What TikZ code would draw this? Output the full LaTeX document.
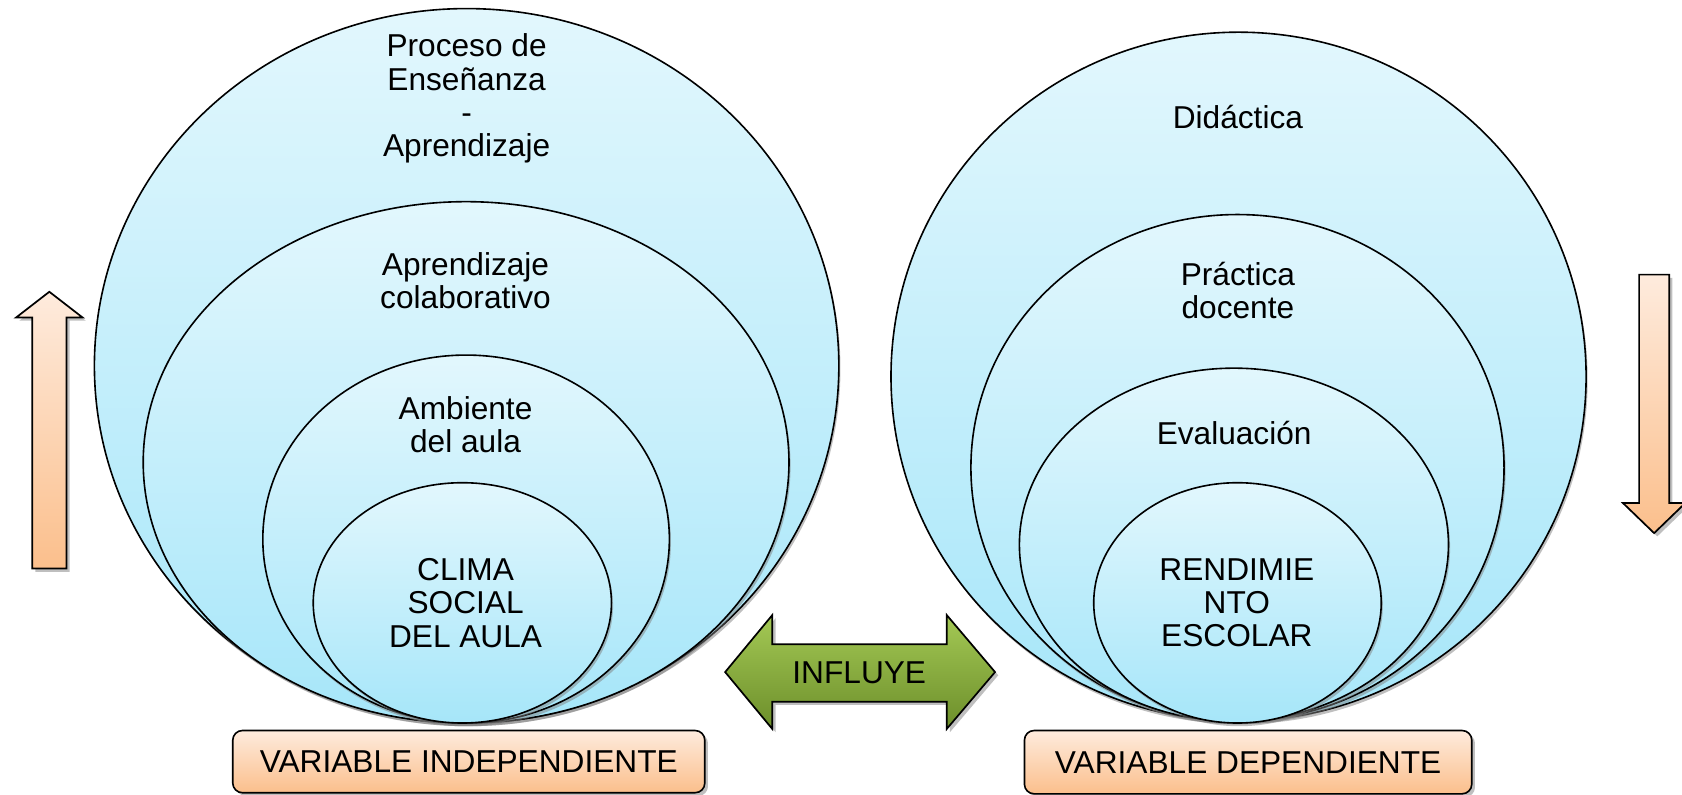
\documentclass[tikz,border=0pt]{standalone}
\usepackage{fontspec}
\setmainfont{Liberation Sans}
\usetikzlibrary{shapes.geometric,shadows}
\definecolor{bluetop}{HTML}{E2F7FD}
\definecolor{bluebot}{HTML}{A6E6F9}
\definecolor{orgtop}{HTML}{FEEBDD}
\definecolor{orgbot}{HTML}{FBBF8C}
\definecolor{grntop}{HTML}{A4C955}
\definecolor{grnbot}{HTML}{6C8E2A}
\begin{document}
\begin{tikzpicture}[x=1pt,y=-1pt,
  shell/.style={ellipse, draw=black, line width=1.5pt, inner sep=0pt,
    shading=axis, top color=bluetop, bottom color=bluebot,
    drop shadow={opacity=0.5, shadow xshift=1.5pt, shadow yshift=-3pt}},
  lbl/.style={align=center, font=\fontsize{29.5}{31}\selectfont, inner sep=0pt},
  varbox/.style={rectangle, rounded corners=9pt, draw=black, line width=1.5pt,
    top color=orgtop, bottom color=orgbot, inner sep=0pt,
    drop shadow={opacity=0.5, shadow xshift=3pt, shadow yshift=-3pt},
    font=\fontsize{29.5}{31}\selectfont},
  orgarrow/.style={draw=black, line width=1.6pt, line join=miter,
    top color=orgtop, bottom color=orgbot,
    drop shadow={opacity=0.5, shadow xshift=3pt, shadow yshift=-3pt}},
  grnarrow/.style={draw=black, line width=1.6pt, line join=miter,
    top color=grntop, bottom color=grnbot,
    drop shadow={opacity=0.5, shadow xshift=3pt, shadow yshift=-3pt}}]
\useasboundingbox (0,0) rectangle (1568,741);

% left nest
\node[shell, minimum width=694pt, minimum height=666pt] (L1) at (435,341) {};
\node[shell, minimum width=602pt, minimum height=486pt] (L2) at (434.5,431) {};
\node[shell, minimum width=379pt, minimum height=343pt] (L3) at (434.5,502.5) {};
\node[shell, minimum width=278pt, minimum height=224pt] (L4) at (431,562) {};

% right nest
\node[shell, minimum width=648pt, minimum height=642pt] (R1) at (1154.6,351) {};
\node[shell, minimum width=497pt, minimum height=472pt] (R2) at (1153.6,436) {};
\node[shell, minimum width=400pt, minimum height=329pt] (R3) at (1150.3,507.7) {};
\node[shell, minimum width=268pt, minimum height=224pt] (R4) at (1153.6,562) {};

% texts
\node[lbl] (tL1) at (435,92) {Proceso de\\Enseñanza\\-\\Aprendizaje};
\node[lbl] (tL2) at (434,262) {Aprendizaje\\colaborativo};
\node[lbl] (tL3) at (434,396) {Ambiente\\del aula};
\node[lbl] (tL4) at (434,562) {CLIMA\\SOCIAL\\DEL AULA};
\node[lbl] (tR1) at (1154,109) {Didáctica};
\node[lbl] (tR2) at (1154,271) {Práctica\\docente};
\node[lbl] (tR3) at (1150.5,404) {Evaluación};
\node[lbl] (tR4) at (1153,562) {RENDIMIE\\NTO\\ESCOLAR};

% variable boxes
\node[varbox, minimum width=440pt, minimum height=58pt] (vi) at (437,710) {VARIABLE INDEPENDIENTE};
\node[varbox, minimum width=417pt, minimum height=59pt] (vd) at (1163.5,710.5) {VARIABLE DEPENDIENTE};

% influye double arrow
\path[grnarrow] (676,626.5) -- (720,573.3) -- (720,600.6) -- (882.5,600.6) -- (882.5,573.3)
  -- (927.6,626.5) -- (882.5,679.6) -- (882.5,654.2) -- (720,654.2) -- (720,679.6) -- cycle;
\node[lbl] (inf) at (801,627) {INFLUYE};

% side arrows
\path[orgarrow] (46,272) -- (77,296) -- (62,296) -- (62,530) -- (30,530) -- (30,296) -- (15,296) -- cycle;
\path[orgarrow] (1528,256) -- (1556,256) -- (1556,469) -- (1571,469) -- (1542,497) -- (1513,469) -- (1528,469) -- cycle;
\end{tikzpicture}
\end{document}
